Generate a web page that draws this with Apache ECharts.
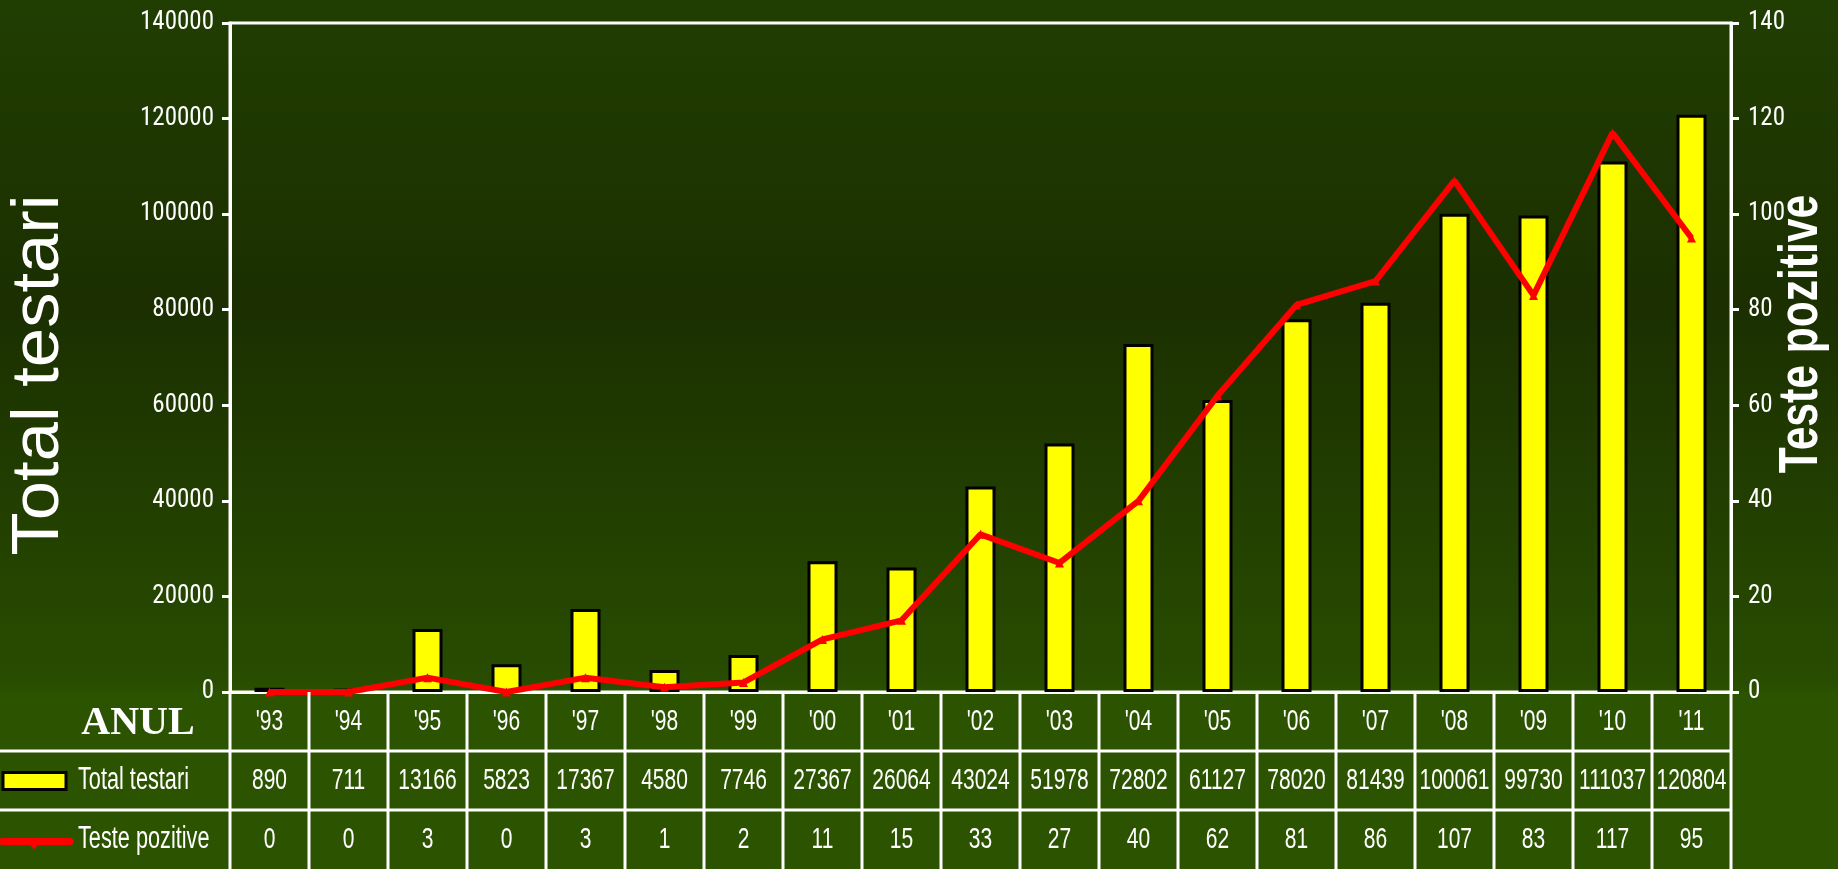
<!DOCTYPE html>
<html>
<head>
<meta charset="utf-8">
<script src="https://cdn.jsdelivr.net/npm/echarts@6/dist/echarts.min.js"></script>
<style>
  html, body { margin: 0; padding: 0; background: #1f3900; }
  #chart { width: 1838px; height: 869px; }
</style>
</head>
<body>
<div id="chart"></div>
<script>
// Yearly HIV testing: total tests (bars, left axis) and positive tests (line, right axis)
const years = ["'93", "'94", "'95", "'96", "'97", "'98", "'99", "'00", "'01", "'02",
               "'03", "'04", "'05", "'06", "'07", "'08", "'09", "'10", "'11"];
const totalTests = [890, 711, 13166, 5823, 17367, 4580, 7746, 27367, 26064, 43024,
                    51978, 72802, 61127, 78020, 81439, 100061, 99730, 111037, 120804];
const positiveTests = [0, 0, 3, 0, 3, 1, 2, 11, 15, 33, 27, 40, 62, 81, 86, 107, 83, 117, 95];

const leftTicks = { min: 0, max: 140000, interval: 20000 };
const rightTicks = { min: 0, max: 140, interval: 20 };

const rowHeader = 'ANUL';
const totalName = 'Total testari';
const positiveName = 'Teste pozitive';

const SANS = '"Liberation Sans", Arial, sans-serif';
const CONDENSED = '"Roboto Condensed", "Open Sans Condensed", "Liberation Sans", sans-serif';
const WHITE = '#ffffff';
const LINE_W = 3;
const SQUEEZE = 0.7;   // horizontal squeeze for the narrow table lettering

const chart = echarts.init(document.getElementById('chart'));

function narrowText(text, x, y, align, size) {
  return {
    type: 'text', x: x, y: y, scaleX: SQUEEZE, scaleY: 1,
    style: {
      text: text, x: 0, y: 0, fill: WHITE,
      fontFamily: SANS, fontSize: size || 30,
      align: align, verticalAlign: 'middle'
    }
  };
}

// Table underneath the plot: one column per year, drawn through the category scale
function renderTableColumn(params, api) {
  const i = api.value(0);
  const w = api.size([1, 0])[0];
  const top = api.coord([i, 0]);
  const r1 = api.coord([i, 1]);
  const r2 = api.coord([i, 2]);
  const bottom = api.coord([i, 3]);
  const cx = top[0];
  const left = cx - w / 2;
  const right = cx + w / 2;
  const lineStyle = { stroke: WHITE, lineWidth: LINE_W };
  const children = [];
  const hStart = i === 0 ? 0 : left;
  children.push({ type: 'line', shape: { x1: left, y1: top[1], x2: left, y2: bottom[1] }, style: lineStyle });
  if (i === years.length - 1) {
    children.push({ type: 'line', shape: { x1: right, y1: top[1], x2: right, y2: bottom[1] }, style: lineStyle });
  }
  children.push({ type: 'line', shape: { x1: hStart, y1: r1[1], x2: right, y2: r1[1] }, style: lineStyle });
  children.push({ type: 'line', shape: { x1: hStart, y1: r2[1], x2: right, y2: r2[1] }, style: lineStyle });
  const cells = [years[i], String(totalTests[i]), String(positiveTests[i])];
  const ys = [(top[1] + r1[1]) / 2, (r1[1] + r2[1]) / 2, (r2[1] + bottom[1]) / 2];
  cells.forEach(function (t, k) {
    children.push(narrowText(t, cx, ys[k], 'center'));
  });
  if (i === 0) {
    // row headers with the legend keys
    children.push({
      type: 'text',
      style: {
        text: rowHeader, x: 138, y: ys[0] + 2, fill: WHITE,
        fontFamily: '"Liberation Serif", "DejaVu Serif", serif', fontWeight: 'bold', fontSize: 40,
        align: 'center', verticalAlign: 'middle'
      }
    });
    children.push({
      type: 'rect', shape: { x: 3, y: ys[1] - 8, width: 63, height: 17 },
      style: { fill: '#ffff00', stroke: '#000000', lineWidth: 3 }
    });
    children.push(narrowText(totalName, 78, ys[1], 'left', 31));
    children.push({
      type: 'line', shape: { x1: 2, y1: ys[2] + 2, x2: 70, y2: ys[2] + 2 },
      style: { stroke: '#ff0000', lineWidth: 7, lineCap: 'round' }
    });
    children.push({
      type: 'polygon', shape: { points: [[29, ys[2] + 4], [39, ys[2] + 4], [34, ys[2] + 10]] },
      style: { fill: '#ff0000' }
    });
    children.push(narrowText(positiveName, 78, ys[2], 'left', 31));
  }
  return { type: 'group', children: children };
}

const option = {
  animation: false,
  backgroundColor: {
    type: 'linear', x: 0, y: 0, x2: 0, y2: 1,
    colorStops: [
      { offset: 0, color: '#213e02' },
      { offset: 0.35, color: '#1b2f00' },
      { offset: 0.78, color: '#284c00' },
      { offset: 0.795, color: '#2a5000' },
      { offset: 0.796, color: '#2c5300' },
      { offset: 1, color: '#2c5300' }
    ]
  },
  grid: [
    { left: 230, right: 107, top: 23, height: 669, show: true, borderColor: WHITE, borderWidth: LINE_W, backgroundColor: 'transparent' },
    { left: 230, right: 107, top: 692, height: 183 }
  ],
  xAxis: [
    {
      type: 'category', gridIndex: 0, data: years, boundaryGap: true,
      axisLine: { lineStyle: { color: WHITE, width: LINE_W } },
      axisTick: { show: false }, axisLabel: { show: false }, splitLine: { show: false }
    },
    {
      type: 'category', gridIndex: 1, data: years, boundaryGap: true, show: false
    }
  ],
  yAxis: [
    {
      type: 'value', gridIndex: 0, position: 'left',
      min: leftTicks.min, max: leftTicks.max, interval: leftTicks.interval,
      axisLine: { show: true, lineStyle: { color: WHITE, width: LINE_W } },
      axisTick: { show: true, length: 8, lineStyle: { color: WHITE, width: LINE_W } },
      axisLabel: { color: WHITE, fontFamily: CONDENSED, fontSize: 25, margin: 16, formatter: String },
      splitLine: { show: false }
    },
    {
      type: 'value', gridIndex: 0, position: 'right',
      min: rightTicks.min, max: rightTicks.max, interval: rightTicks.interval,
      axisLine: { show: true, lineStyle: { color: WHITE, width: LINE_W } },
      axisTick: { show: true, length: 8, lineStyle: { color: WHITE, width: LINE_W } },
      axisLabel: { color: WHITE, fontFamily: CONDENSED, fontSize: 25, margin: 17, formatter: String },
      splitLine: { show: false }
    },
    {
      type: 'value', gridIndex: 1, min: 0, max: 3, inverse: true, show: false
    }
  ],
  graphic: [
    {
      type: 'text', x: 40, y: 375, rotation: Math.PI / 2, scaleX: 1.07, scaleY: 1,
      style: {
        text: totalName, fill: WHITE,
        fontFamily: SANS, fontSize: 66,
        align: 'center', verticalAlign: 'middle'
      }
    },
    {
      type: 'text', x: 1802, y: 334, rotation: Math.PI / 2, scaleX: 0.76, scaleY: 1,
      style: {
        text: positiveName, fill: WHITE,
        fontFamily: SANS, fontWeight: 'bold', fontSize: 56,
        align: 'center', verticalAlign: 'middle'
      }
    }
  ],
  series: [
    {
      name: totalName, type: 'bar', xAxisIndex: 0, yAxisIndex: 0,
      data: totalTests, barWidth: 30,
      itemStyle: { color: '#ffff00', borderColor: '#000000', borderWidth: 3 },
      z: 2
    },
    {
      name: positiveName, type: 'line', xAxisIndex: 0, yAxisIndex: 1,
      data: positiveTests,
      symbol: 'triangle', symbolSize: 9, showSymbol: true,
      lineStyle: { color: '#ff0000', width: 6 },
      itemStyle: { color: '#ff0000' },
      z: 3
    },
    {
      name: 'tabel', type: 'custom', xAxisIndex: 1, yAxisIndex: 2,
      data: years.map(function (y, i) { return [i]; }),
      renderItem: renderTableColumn, clip: false, silent: true, z: 4
    }
  ]
};

chart.setOption(option);
</script>
</body>
</html>
